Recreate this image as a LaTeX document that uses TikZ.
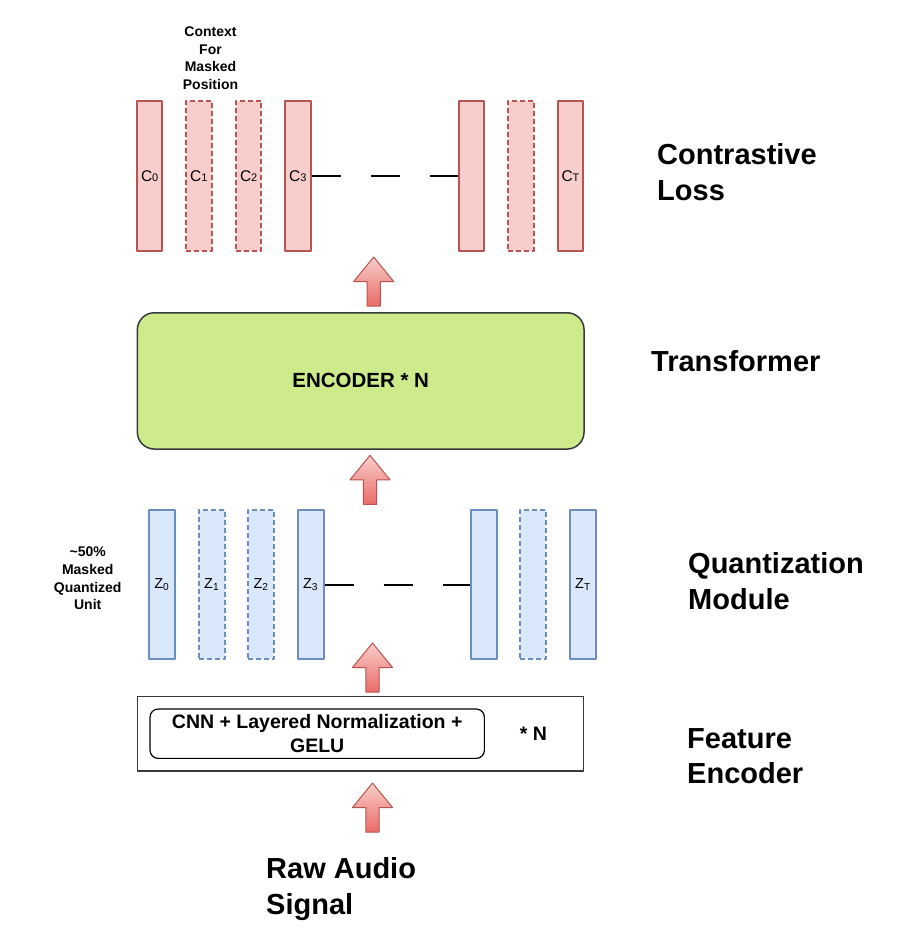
\documentclass[tikz,border=0pt]{standalone}
\usepackage{fontspec}
\setmainfont{Liberation Sans}
\definecolor{redfill}{HTML}{F8CECC}
\definecolor{redline}{HTML}{B85450}
\definecolor{bluefill}{HTML}{DAE8FC}
\definecolor{blueline}{HTML}{6C8EBF}
\definecolor{greenfill}{HTML}{CDEB8B}
\definecolor{darkline}{HTML}{36393D}
\definecolor{arrowtop}{HTML}{F8CECC}
\definecolor{arrowbot}{HTML}{EA6B66}
\tikzset{
	cbar/.style={draw=redline, fill=redfill, line width=2pt, minimum width=25.5pt, minimum height=150pt, inner sep=0pt, font=\fontsize{15.5}{15.5}\selectfont},
	cmask/.style={cbar, dash pattern=on 5pt off 3pt},
	zbar/.style={cbar, draw=blueline, fill=bluefill, minimum width=26pt, minimum height=149pt, font=\fontsize{14.5}{14.5}\selectfont},
	zmask/.style={zbar, dash pattern=on 5pt off 3pt},
	gapline/.style={line width=2pt, dash pattern=on 29pt off 30pt},
	biglabel/.style={anchor=north west, align=left, inner sep=0pt, font=\bfseries\fontsize{29}{35.5}\selectfont},
	note/.style={anchor=north, align=center, inner sep=0pt, font=\bfseries\fontsize{14}{17.8}\selectfont},
	pics/uparrow/.style={code={
		\path[draw=redline, line width=1pt, top color=arrowtop, bottom color=arrowbot]
		(-6.7,0)--(-6.7,-24.5)--(-20,-24.5)--(0,-49)--(20,-24.5)--(6.7,-24.5)--(6.7,0)--cycle;}}
}
\newcommand{\sm}[1]{{\fontsize{11}{11}\selectfont #1}}
\begin{document}
\begin{tikzpicture}[x=1pt, y=-1pt, line join=round]
	\useasboundingbox (0,0) rectangle (904,952);
	% context vectors
	\path 
	(149.7,175.7) node[cbar] (c0) {C\sm{0}}
	(198.8,175.7) node[cmask] (c1) {C\sm{1}}
	(248.7,175.7) node[cmask] (c2) {C\sm{2}}
	(297.8,175.7) node[cbar] (c3) {C\sm{3}}
	(471.7,175.7) node[cbar] (c4) {}
	(521,175.7) node[cmask] (c5) {}
	(570.5,175.7) node[cbar] (cT) {C\sm{T}}
	(210.5,26.4) node[note] (ctx) {Context\\For\\Masked\\Position};
	\draw[gapline] (c3.east)--(c4.west);
	% quantized units
	\path 
	(161.8,584.5) node[zbar] (z0) {Z\textsubscript{0}}
	(211.7,584.5) node[zmask] (z1) {Z\textsubscript{1}}
	(261,584.5) node[zmask] (z2) {Z\textsubscript{2}}
	(310.5,584.5) node[zbar] (z3) {Z\textsubscript{3}}
	(483.8,584.5) node[zbar] (z4) {}
	(533.3,584.5) node[zmask] (z5) {}
	(583,584.5) node[zbar] (zT) {Z\textsubscript{T}}
	(87.7,546.5) node[note] (msk) {\textasciitilde50\%\\Masked\\Quantized\\Unit};
	\draw[gapline] (z3.east)--(z4.west);
	% transformer and feature encoder
	\node[draw=darkline, fill=greenfill, line width=1.5pt, rounded corners=17pt, minimum width=446.7pt, minimum height=136.3pt, font=\bfseries\fontsize{20.5}{20.5}\selectfont] (trf) at (360.7,380.9) {ENCODER * N};
	\node[draw=darkline, line width=1.5pt, minimum width=446pt, minimum height=74.3pt] (fenc) at (360.3,733.85) {};
	\node[draw, line width=1.2pt, rounded corners=8pt, minimum width=334.3pt, minimum height=49.3pt, inner sep=0pt, align=center, font=\bfseries\fontsize{19.5}{23.4}\selectfont] (cnn) at (317.2,733.7) {CNN + Layered Normalization +\\GELU};
	\node[anchor=base, inner sep=0pt, font=\bfseries\fontsize{19.5}{19.5}\selectfont] (fn) at (533.3,740) {* N};
	% block arrows
	\pic at (373.7,306) {uparrow};
	\pic at (370,504.3) {uparrow};
	\pic at (372.5,692) {uparrow};
	\pic at (372.5,832) {uparrow};
	% side labels
	\path 
	(657,143.7) node[biglabel] (cl) {Contrastive\\Loss}
	(651,350.4) node[biglabel] (tl) {Transformer}
	(688,552.5) node[biglabel] (ql) {Quantization\\Module}
	(687,728) node[biglabel] (fl) {Feature\\Encoder}
	(266,857.7) node[biglabel] (rl) {Raw Audio\\Signal};
\end{tikzpicture}
\end{document}
